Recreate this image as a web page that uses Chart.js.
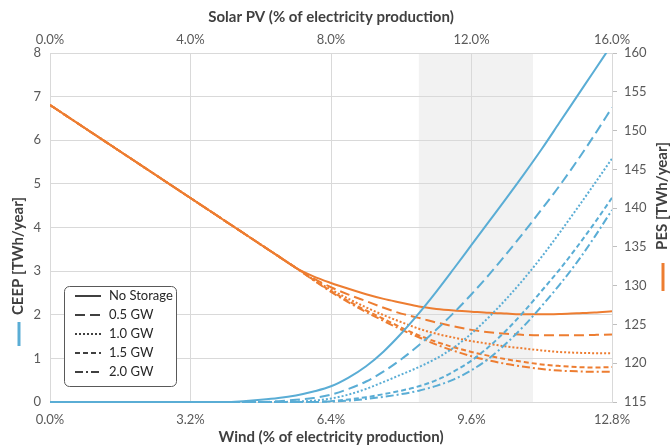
<!DOCTYPE html>
<html>
<head>
<meta charset="utf-8">
<script src="https://cdn.jsdelivr.net/npm/chart.js@4.4.1/dist/chart.umd.min.js"></script>
<style>
html,body{margin:0;padding:0;background:#fff;}
#wrap{width:670px;height:447px;position:relative;}
</style>
</head>
<body>
<div id="wrap"><canvas id="c" width="670" height="447"></canvas></div>
<script>
// ---------- DATA ----------
const windX = [0,0.4,0.8,1.2,1.6,2.0,2.4,2.8,3.2,3.6,4.0,4.4,4.8,5.2,5.6,6.0,6.4,6.8,7.2,7.6,8.0,8.4,8.8,9.2,9.6,10.0,10.4,10.8,11.2,11.6,12.0,12.4,12.8];
const windTicks = [0,3.2,6.4,9.6,12.8];
const solarTicks = [0,4,8,12,16];
const ceepTicks = [0,1,2,3,4,5,6,7,8];
const pesTicks = [115,120,125,130,135,140,145,150,155,160];
const storageLabels = ['No Storage','0.5 GW','1.0 GW','1.5 GW','2.0 GW'];
const curtailBand = [8.4, 11.0]; // wind %

// CEEP [TWh/year] (left axis)
const ceepNoStorage = [0,0,0,0,0,0,0,0,0,0,0,0.02,0.05,0.09,0.15,0.24,0.36,0.56,0.82,1.16,1.57,2.03,2.53,3.06,3.6,4.14,4.68,5.23,5.8,6.4,7.0,7.6,8.2];
const ceep05 = [0,0,0,0,0,0,0,0,0,0,0,0,0,0.02,0.05,0.09,0.17,0.3,0.47,0.7,0.98,1.3,1.66,2.05,2.47,2.92,3.4,3.9,4.42,4.95,5.52,6.12,6.75];
const ceep10 = [0,0,0,0,0,0,0,0,0,0,0,0,0,0,0.01,0.03,0.08,0.17,0.3,0.46,0.63,0.8,1.0,1.25,1.57,1.95,2.37,2.83,3.33,3.87,4.43,5.0,5.58];
const ceep15 = [0,0,0,0,0,0,0,0,0,0,0,0,0,0,0,0,0.02,0.06,0.11,0.18,0.26,0.36,0.5,0.7,0.95,1.27,1.65,2.08,2.55,3.03,3.55,4.1,4.68];
const ceep20 = [0,0,0,0,0,0,0,0,0,0,0,0,0,0,0,0,0.01,0.03,0.07,0.12,0.18,0.26,0.37,0.52,0.73,1.0,1.35,1.75,2.2,2.68,3.2,3.78,4.4];

// PES [TWh/year] (right axis)
const pesNoStorage = [153.3,151.8,150.3,148.8,147.3,145.8,144.3,142.8,141.3,139.8,138.3,136.8,135.3,133.8,132.3,131.2,130.35,129.6,128.9,128.3,127.8,127.3,127.0,126.8,126.65,126.5,126.4,126.3,126.3,126.35,126.45,126.55,126.7];
const pes05 = [153.3,151.8,150.3,148.8,147.3,145.8,144.3,142.8,141.3,139.8,138.3,136.8,135.3,133.8,132.3,130.95,129.8,128.85,128.0,127.15,126.4,125.85,125.25,124.75,124.3,124.0,123.8,123.65,123.6,123.6,123.6,123.65,123.7];
const pes10 = [153.3,151.8,150.3,148.8,147.3,145.8,144.3,142.8,141.3,139.8,138.3,136.8,135.3,133.8,132.3,130.8,129.5,128.3,127.2,126.2,125.3,124.45,123.8,123.3,122.85,122.5,122.15,121.9,121.65,121.45,121.35,121.3,121.3];
const pes15 = [153.3,151.8,150.3,148.8,147.3,145.8,144.3,142.8,141.3,139.8,138.3,136.8,135.3,133.8,132.3,130.75,129.3,128.0,126.8,125.7,124.6,123.6,122.75,122.05,121.45,120.95,120.5,120.15,119.85,119.65,119.5,119.45,119.5];
const pes20 = [153.3,151.8,150.3,148.8,147.3,145.8,144.3,142.8,141.3,139.8,138.3,136.8,135.3,133.8,132.3,130.7,129.2,127.85,126.6,125.45,124.35,123.35,122.4,121.6,120.9,120.35,119.9,119.55,119.25,119.05,118.95,118.9,118.9];

// ---------- STYLE ----------
const BLUE = '#5aadd5';
const ORANGE = '#ed7d31';
const GRID = '#d9d9d9';
const TICK = '#595959';
const TITLE = '#404040';
const FONT = 'Lato';
const dashes = [[], [10,5], [2,2], [5,3], [8,3,2,3]];

const ceepSeries = [ceepNoStorage, ceep05, ceep10, ceep15, ceep20];
const pesSeries = [pesNoStorage, pes05, pes10, pes15, pes20];

const toPts = arr => windX.map((x, j) => ({x: x, y: arr[j]}));
const datasets = [];
storageLabels.forEach((lab, i) => {
  datasets.push({
    label: 'CEEP ' + lab, data: toPts(ceepSeries[i]), xAxisID: 'x', yAxisID: 'y',
    borderColor: BLUE, borderWidth: 2, borderDash: dashes[i], pointRadius: 0,
    cubicInterpolationMode: 'monotone', fill: false, clip: {left: 0, right: 0, top: 0, bottom: 3}
  });
});
storageLabels.forEach((lab, i) => {
  datasets.push({
    label: 'PES ' + lab, data: toPts(pesSeries[i]), xAxisID: 'x', yAxisID: 'y2',
    borderColor: ORANGE, borderWidth: 2, borderDash: dashes[i], pointRadius: 0,
    cubicInterpolationMode: 'monotone', fill: false, clip: {left: 0, right: 0, top: 0, bottom: 3}
  });
});

const bandPlugin = {
  id: 'band',
  beforeDraw(chart) {
    const {ctx, chartArea: a, scales} = chart;
    const x1 = scales.x.getPixelForValue(curtailBand[0]);
    const x2 = scales.x.getPixelForValue(curtailBand[1]);
    ctx.save();
    ctx.fillStyle = '#f2f2f2';
    ctx.fillRect(x1, a.top, x2 - x1, a.bottom - a.top);
    ctx.restore();
  }
};

const sidePlugin = {
  id: 'sideTitles',
  afterDraw(chart) {
    const ctx = chart.ctx;
    ctx.save();
    ctx.font = 'bold 15px ' + FONT;
    ctx.fillStyle = TITLE;
    ctx.textAlign = 'center';
    ctx.textBaseline = 'middle';
    ctx.save(); ctx.translate(18, 256); ctx.rotate(-Math.PI / 2); ctx.fillText('CEEP [TWh/year]', 0, 0); ctx.restore();
    ctx.save(); ctx.translate(662, 196); ctx.rotate(-Math.PI / 2); ctx.fillText('PES [TWh/year]', 0, 0); ctx.restore();
    ctx.lineWidth = 3;
    ctx.strokeStyle = BLUE;
    ctx.beginPath(); ctx.moveTo(19, 322); ctx.lineTo(19, 346); ctx.stroke();
    ctx.strokeStyle = ORANGE;
    ctx.beginPath(); ctx.moveTo(663, 263); ctx.lineTo(663, 291); ctx.stroke();
    ctx.restore();
  }
};

const legendPlugin = {
  id: 'boxLegend',
  afterDatasetsDraw(chart) {
    const ctx = chart.ctx;
    const bx = 64.5, by = 286.5, bw = 112, bh = 100, r = 5;
    ctx.save();
    ctx.beginPath();
    ctx.moveTo(bx + r, by);
    ctx.lineTo(bx + bw - r, by); ctx.arcTo(bx + bw, by, bx + bw, by + r, r);
    ctx.lineTo(bx + bw, by + bh - r); ctx.arcTo(bx + bw, by + bh, bx + bw - r, by + bh, r);
    ctx.lineTo(bx + r, by + bh); ctx.arcTo(bx, by + bh, bx, by + bh - r, r);
    ctx.lineTo(bx, by + r); ctx.arcTo(bx, by, bx + r, by, r);
    ctx.closePath();
    ctx.fillStyle = '#ffffff'; ctx.fill();
    ctx.strokeStyle = '#595959'; ctx.lineWidth = 1; ctx.stroke();
    ctx.font = '13px ' + FONT;
    ctx.textAlign = 'left'; ctx.textBaseline = 'middle';
    storageLabels.forEach((lab, i) => {
      const y = 296 + i * 19;
      ctx.strokeStyle = '#404040'; ctx.lineWidth = 2; ctx.setLineDash(dashes[i]);
      ctx.beginPath(); ctx.moveTo(75, y); ctx.lineTo(101, y); ctx.stroke();
      ctx.setLineDash([]);
      ctx.fillStyle = '#262626';
      ctx.fillText(lab, 109, y);
    });
    ctx.restore();
  }
};

const pct = v => Number(v).toFixed(1) + '%';

new Chart(document.getElementById('c'), {
  type: 'line',
  data: {datasets: datasets},
  plugins: [bandPlugin, sidePlugin, legendPlugin],
  options: {
    responsive: false,
    animation: false,
    devicePixelRatio: 1,
    layout: {padding: 0},
    plugins: {legend: {display: false}, tooltip: {enabled: false}},
    scales: {
      x: {
        type: 'linear', position: 'bottom', min: 0, max: 12.8,
        afterBuildTicks: s => { s.ticks = windTicks.map(v => ({value: v})); },
        afterFit: s => { s.height = 45; },
        grid: {display: false, drawTicks: false},
        border: {display: false},
        ticks: {callback: pct, color: TICK, font: {family: FONT, size: 13}, padding: 10, maxRotation: 0},
        title: {display: true, text: 'Wind (% of electricity production)', color: TITLE,
                font: {family: FONT, size: 15, weight: 'bold'}, padding: {top: 0, bottom: 1}}
      },
      x2: {
        type: 'linear', position: 'top', min: 0, max: 16,
        afterBuildTicks: s => { s.ticks = solarTicks.map(v => ({value: v})); },
        afterFit: s => { s.height = 53; },
        grid: {color: GRID, lineWidth: 1, drawTicks: false},
        border: {display: false},
        ticks: {callback: pct, color: TICK, font: {family: FONT, size: 13}, padding: 5, maxRotation: 0},
        title: {display: true, text: 'Solar PV (% of electricity production)', color: TITLE,
                font: {family: FONT, size: 15, weight: 'bold'}, padding: {top: 8, bottom: 0}}
      },
      y: {
        type: 'linear', position: 'left', min: 0, max: 8,
        afterBuildTicks: s => { s.ticks = ceepTicks.map(v => ({value: v})); },
        afterFit: s => { s.width = 50; },
        grid: {color: GRID, lineWidth: 1, drawTicks: false},
        border: {display: true, color: GRID},
        ticks: {color: TICK, font: {family: FONT, size: 13}, padding: 9}
      },
      y2: {
        type: 'linear', position: 'right', min: 115, max: 160,
        afterBuildTicks: s => { s.ticks = pesTicks.map(v => ({value: v})); },
        afterFit: s => { s.width = 58; },
        grid: {drawOnChartArea: false, drawTicks: true, tickLength: 5, color: '#bfbfbf'},
        border: {display: true, color: GRID},
        ticks: {color: TICK, font: {family: FONT, size: 13}, padding: 7}
      }
    }
  }
});
</script>
</body>
</html>
